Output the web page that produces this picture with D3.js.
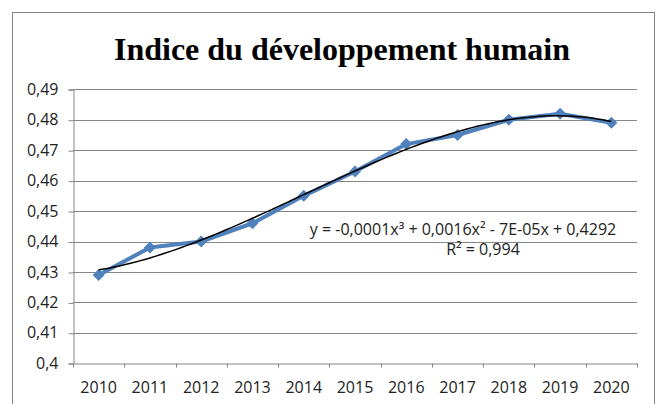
<!DOCTYPE html>
<html><head><meta charset="utf-8">
<script src="https://cdn.jsdelivr.net/npm/d3@7"></script>
<style>body{margin:0;background:#fff}svg{display:block}</style>
</head><body>
<svg id="c" width="660" height="404"></svg>
<script>
const title = "Indice du développement humain";
const years = ["2010","2011","2012","2013","2014","2015","2016","2017","2018","2019","2020"];
const values = [0.429,0.438,0.440,0.446,0.455,0.463,0.472,0.475,0.480,0.482,0.479];
const yTicks = [0.40,0.41,0.42,0.43,0.44,0.45,0.46,0.47,0.48,0.49];
const equationText = "y = -0,0001x³ + 0,0016x² - 7E-05x + 0,4292";
const r2Text = "R² = 0,994";

const svg = d3.select("#c");
const L = 73, R = 637, T = 89.3, B = 363.3;
const fmt = v => d3.format(".2~f")(v).replace(".", ",");

svg.append("rect").attr("x",12.5).attr("y",12.5).attr("width",642).attr("height",420)
  .attr("fill","#fff").attr("stroke","#868686").attr("stroke-width",1);

svg.append("text").attr("x",342).attr("y",60).attr("text-anchor","middle")
  .attr("font-family","'Liberation Serif','Times New Roman',serif").attr("font-weight","bold")
  .attr("font-size",32).attr("fill","#000").text(title);

const x = d3.scaleBand().domain(years).range([L,R]).padding(0);
const y = d3.scaleLinear().domain([0.40,0.49]).range([B,T]);

// gridlines
svg.append("g").selectAll("line").data(yTicks.slice(1)).join("line")
  .attr("x1",L).attr("x2",R).attr("y1",d=>Math.round(y(d))+0.5).attr("y2",d=>Math.round(y(d))+0.5)
  .attr("stroke","#868686").attr("stroke-width",1);

// y axis
const yAx = svg.append("g").attr("transform",`translate(${L+0.5},0)`)
  .call(d3.axisLeft(y).tickValues(yTicks).tickFormat(fmt).tickSize(5).tickPadding(10));
yAx.select(".domain").attr("stroke","#868686");
yAx.selectAll(".tick line").attr("stroke","#868686").attr("transform","translate(0,0.5)");
yAx.selectAll("text").attr("font-family","'Open Sans',sans-serif").attr("font-size",16).attr("fill","#222");

// x axis
const xAx = svg.append("g").attr("transform",`translate(0,${Math.round(B)+0.5})`)
  .call(d3.axisBottom(x).tickSize(0).tickPadding(18));
xAx.select(".domain").attr("stroke","#868686");
xAx.selectAll("text").attr("font-family","'Open Sans',sans-serif").attr("font-size",16).attr("fill","#222");
// category boundary ticks
const bounds = years.map(d=>x(d)).concat([R]);
xAx.append("g").selectAll("line").data(bounds).join("line")
  .attr("x1",d=>Math.round(d)+0.5).attr("x2",d=>Math.round(d)+0.5).attr("y1",0).attr("y2",4)
  .attr("stroke","#868686");

// series
const cx = d => x(d) + x.bandwidth()/2;
const pts = years.map((yr,i)=>[cx(yr), y(values[i])]);
svg.append("path").attr("d", d3.line()(pts)).attr("fill","none")
  .attr("stroke","#4F81BD").attr("stroke-width",4).attr("stroke-linejoin","round");
svg.append("g").selectAll("path").data(pts).join("path")
  .attr("transform",d=>`translate(${d[0]},${d[1]})`)
  .attr("d","M0,-6L6,0L0,6L-6,0Z").attr("fill","#4F81BD");

// cubic trendline (least squares on x = 1..n)
function polyfit(xs, ys, deg){
  const n = deg+1;
  const A = Array.from({length:n},()=>new Array(n+1).fill(0));
  for(let r=0;r<n;r++){
    for(let c=0;c<n;c++) A[r][c] = d3.sum(xs, xv=>Math.pow(xv,r+c));
    A[r][n] = d3.sum(xs, (xv,i)=>ys[i]*Math.pow(xv,r));
  }
  for(let i=0;i<n;i++){
    let p=i; for(let k=i+1;k<n;k++) if(Math.abs(A[k][i])>Math.abs(A[p][i])) p=k;
    [A[i],A[p]]=[A[p],A[i]];
    for(let k=i+1;k<n;k++){const f=A[k][i]/A[i][i]; for(let j=i;j<=n;j++) A[k][j]-=f*A[i][j];}
  }
  const c=new Array(n).fill(0);
  for(let i=n-1;i>=0;i--){let s=A[i][n]; for(let j=i+1;j<n;j++) s-=A[i][j]*c[j]; c[i]=s/A[i][i];}
  return c;
}
const xs = years.map((_,i)=>i+1);
const coef = polyfit(xs, values, 3);
const fx = t => coef[0]+coef[1]*t+coef[2]*t*t+coef[3]*t*t*t;
const xl = d3.scaleLinear().domain([1, years.length]).range([cx(years[0]), cx(years[years.length-1])]);
const tt = d3.range(1, years.length+0.0001, 0.1);
svg.append("path").attr("d", d3.line().curve(d3.curveBasis)(tt.map(t=>[xl(t), y(fx(t))])))
  .attr("fill","none").attr("stroke","#000").attr("stroke-width",1.5);

// equation
svg.append("text").attr("x",463).attr("y",235).attr("text-anchor","middle")
  .attr("font-family","'Open Sans',sans-serif").attr("font-size",16).attr("fill","#222").text(equationText);
svg.append("text").attr("x",483).attr("y",255).attr("text-anchor","middle")
  .attr("font-family","'Open Sans',sans-serif").attr("font-size",16).attr("fill","#222").text(r2Text);
</script>
</body></html>
